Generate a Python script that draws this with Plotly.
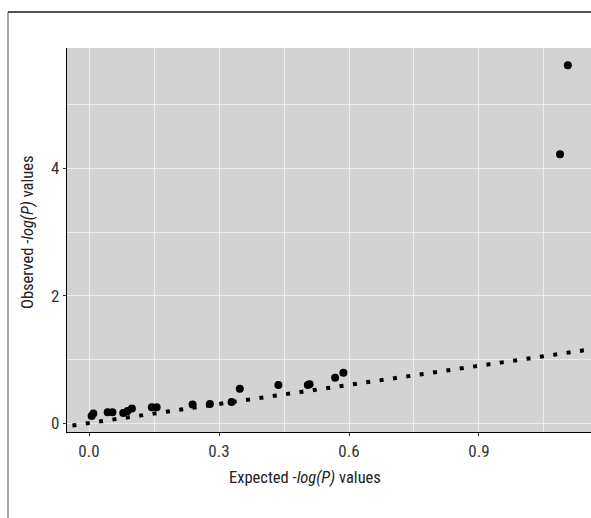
import plotly.graph_objects as go

# Observed vs expected -log(P) values (QQ plot)
expected = [0.006, 0.010, 0.043, 0.054, 0.079, 0.089, 0.099, 0.145, 0.156,
            0.239, 0.279, 0.329, 0.348, 0.437, 0.505, 0.509, 0.568, 0.587,
            1.087, 1.105]
observed = [0.11, 0.15, 0.17, 0.17, 0.16, 0.19, 0.23, 0.25, 0.25,
            0.29, 0.30, 0.33, 0.54, 0.60, 0.60, 0.61, 0.71, 0.79,
            4.22, 5.62]
ref_line = [-0.1, 1.25]

x_ticks = [0.0, 0.3, 0.6, 0.9]
x_labels = ["0.0", "0.3", "0.6", "0.9"]
y_ticks = [0, 2, 4]
y_labels = ["0", "2", "4"]
x_title = "Expected -<i>log(P)</i> values"
y_title = "Observed -<i>log(P)</i> values"

FONT = "Roboto Condensed, DejaVu Sans Condensed, sans-serif"

fig = go.Figure()
fig.add_trace(go.Scatter(
    x=ref_line, y=ref_line, mode="lines",
    line=dict(color="black", width=4, dash="4px,9.5px"),
    hoverinfo="skip", showlegend=False))
fig.add_trace(go.Scatter(
    x=expected, y=observed, mode="markers",
    marker=dict(color="black", size=8),
    showlegend=False))

W, H = 591, 518
L, R, T, B = 67, 0, 48, 86
pw, ph = W - L - R, H - T - B

def px_x(p):
    return (p - L) / pw

def px_y(p):
    return (H - B - p) / ph

fig.add_shape(type="line", xref="paper", yref="paper",
              x0=px_x(8), x1=px_x(8), y0=px_y(12), y1=px_y(520),
              line=dict(color="#8a8a8a", width=1.5))
fig.add_shape(type="line", xref="paper", yref="paper",
              x0=px_x(8), x1=px_x(595), y0=px_y(12), y1=px_y(12),
              line=dict(color="#1a1a1a", width=1.5))

fig.add_annotation(text=x_title, xref="paper", yref="paper",
                   x=px_x(305), y=px_y(477), xanchor="center", yanchor="middle",
                   showarrow=False, font=dict(family=FONT, size=16.5, color="#222222"))
fig.add_annotation(text=y_title, xref="paper", yref="paper", textangle=-90,
                   x=px_x(27), y=px_y(232), xanchor="center", yanchor="middle",
                   showarrow=False, font=dict(family=FONT, size=16.5, color="#222222"))

axis_common = dict(
    showgrid=True, gridcolor="#ececec", gridwidth=1,
    zeroline=False, showline=True, linecolor="black", linewidth=1.2,
    ticks="outside", ticklen=3, tickcolor="#333333", tickwidth=1,
    tickfont=dict(family=FONT, size=17, color="#333333"),
)

fig.update_layout(
    width=W, height=H,
    margin=dict(l=L, r=R, t=T, b=B),
    paper_bgcolor="white", plot_bgcolor="#d3d3d3",
    font=dict(family=FONT, size=16, color="#222222"),
    xaxis=dict(
        range=[-0.0508, 1.1585], tickvals=x_ticks, ticktext=x_labels,
        minor=dict(dtick=0.15, tick0=0.15, showgrid=True, gridcolor="#ececec", gridwidth=1),
        **axis_common),
    yaxis=dict(
        range=[-0.14, 5.89], tickvals=y_ticks, ticktext=y_labels,
        minor=dict(dtick=1, tick0=1, showgrid=True, gridcolor="#ececec", gridwidth=1),
        **axis_common),
)

fig.write_html("out.html")
